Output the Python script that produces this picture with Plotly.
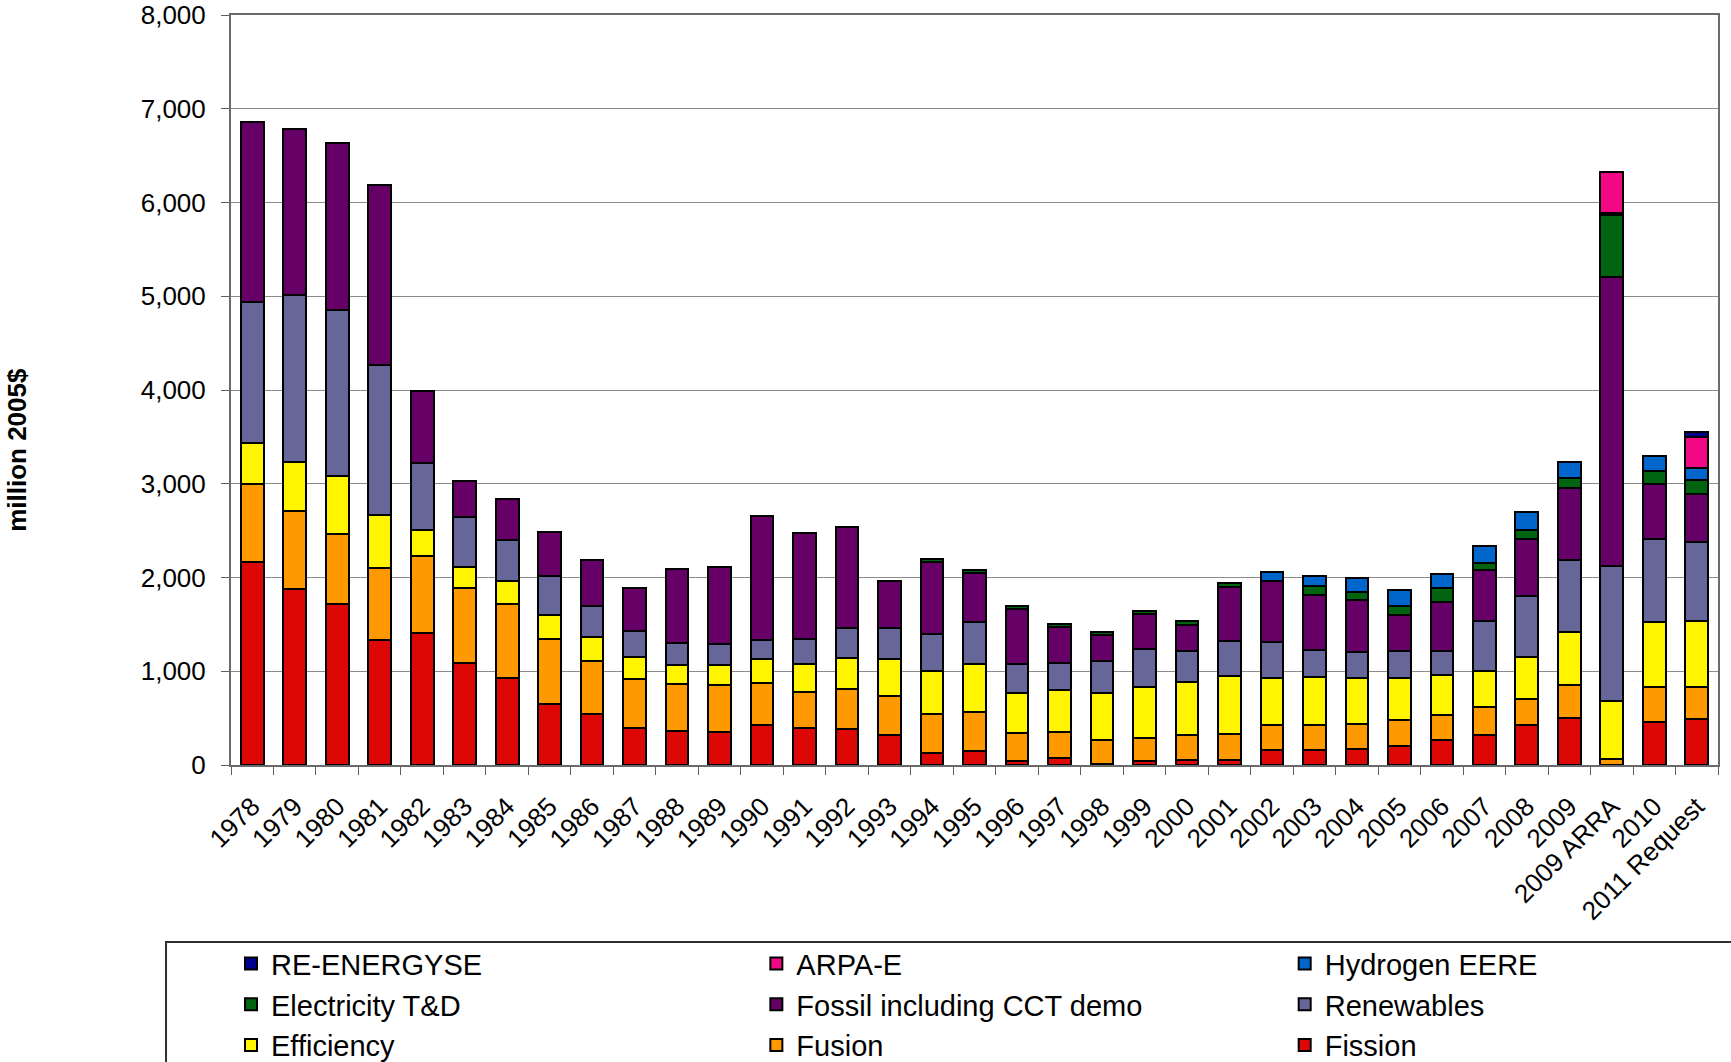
import plotly.graph_objects as go

years = ['1978', '1979', '1980', '1981', '1982', '1983', '1984', '1985', '1986', '1987',
         '1988', '1989', '1990', '1991', '1992', '1993', '1994', '1995', '1996', '1997',
         '1998', '1999', '2000', '2001', '2002', '2003', '2004', '2005', '2006', '2007',
         '2008', '2009', '2009 ARRA', '2010', '2011 Request']

fission = [2170, 1880, 1715, 1335, 1405, 1090, 930, 650, 540, 390,
           360, 350, 430, 395, 380, 315, 130, 145, 42, 71,
           10, 39, 50, 55, 158, 158, 170, 205, 264, 324,
           426, 499, 0, 456, 490]
fusion = [830, 830, 745, 770, 820, 800, 790, 695, 565, 530,
          500, 500, 440, 380, 430, 425, 410, 425, 298, 279,
          255, 244, 269, 278, 268, 268, 269, 277, 269, 294,
          273, 354, 64, 376, 337]
efficiency = [435, 520, 620, 560, 280, 227, 248, 259, 259, 228,
              212, 212, 262, 305, 336, 389, 463, 506, 428, 453,
              500, 545, 569, 618, 499, 512, 491, 448, 427, 384,
              452, 571, 623, 695, 704]
renewables = [1505, 1785, 1777, 1597, 719, 529, 434, 413, 334, 285,
              227, 234, 198, 265, 312, 329, 390, 450, 308, 280,
              343, 411, 330, 371, 384, 294, 273, 281, 251, 537,
              653, 759, 1441, 887, 844]
fossil = [1920, 1767, 1782, 1925, 761, 381, 439, 470, 491, 450,
          788, 818, 1328, 1126, 1083, 510, 775, 527, 591, 390,
          280, 372, 279, 576, 653, 585, 558, 388, 529, 538,
          610, 776, 3075, 584, 516]
electricity_td = [0, 0, 0, 0, 0, 0, 0, 0, 0, 0,
                  0, 0, 0, 0, 0, 0, 28, 22, 32, 31,
                  31, 35, 36, 42, 0, 89, 81, 94, 145, 81,
                  89, 103, 661, 136, 145]
hydrogen_eere = [0, 0, 0, 0, 0, 0, 0, 0, 0, 0,
                 0, 0, 0, 0, 0, 0, 0, 0, 0, 0,
                 0, 0, 0, 0, 93, 115, 158, 175, 149, 183,
                 192, 166, 29, 158, 128]
arpa_e = [0, 0, 0, 0, 0, 0, 0, 0, 0, 0,
          0, 0, 0, 0, 0, 0, 0, 0, 0, 0,
          0, 0, 0, 0, 0, 0, 0, 0, 0, 0,
          0, 0, 435, 0, 333]
re_energyse = [0, 0, 0, 0, 0, 0, 0, 0, 0, 0,
               0, 0, 0, 0, 0, 0, 0, 0, 0, 0,
               0, 0, 0, 0, 0, 0, 0, 0, 0, 0,
               0, 0, 0, 0, 55]

# name, values, colour, legend column
series = [
    ('Fission', fission, '#DD0806', 'legend3'),
    ('Fusion', fusion, '#FF9900', 'legend2'),
    ('Efficiency', efficiency, '#FFF500', 'legend'),
    ('Renewables', renewables, '#666699', 'legend3'),
    ('Fossil including CCT demo', fossil, '#660066', 'legend2'),
    ('Electricity T&D', electricity_td, '#006411', 'legend'),
    ('Hydrogen EERE', hydrogen_eere, '#0066CC', 'legend3'),
    ('ARPA-E', arpa_e, '#F20884', 'legend2'),
    ('RE-ENERGYSE', re_energyse, '#000090', 'legend'),
]

fig = go.Figure()
for name, values, colour, leg in series:
    fig.add_trace(go.Bar(
        x=years, y=values, name=name, legend=leg,
        marker={'color': colour, 'line': {'color': 'black', 'width': 2}},
    ))

font = 'Liberation Sans, Arial, sans-serif'
legend_style = {
    'orientation': 'v', 'traceorder': 'reversed',
    'xanchor': 'left', 'y': -0.231, 'yanchor': 'top',
    'font': {'size': 29, 'family': font},
    'bgcolor': 'rgba(0,0,0,0)',
}

fig.update_layout(
    barmode='stack',
    bargap=0.466,
    width=1731, height=1062,
    margin={'l': 231, 'r': 13, 't': 15, 'b': 297, 'autoexpand': False},
    plot_bgcolor='white',
    paper_bgcolor='white',
    font={'family': font, 'size': 26, 'color': 'black'},
    showlegend=True,
    legend={**legend_style, 'x': 0.0},
    legend2={**legend_style, 'x': 0.3533},
    legend3={**legend_style, 'x': 0.7086},
    shapes=[{
        'type': 'rect', 'xref': 'paper', 'yref': 'paper',
        'x0': -0.0437, 'x1': 1.2, 'y0': -0.236, 'y1': -0.6,
        'line': {'color': '#303030', 'width': 2},
    }],
    annotations=[{
        'text': '<b>million 2005$</b>', 'textangle': -90,
        'xref': 'paper', 'yref': 'paper', 'x': -0.144, 'y': 0.42,
        'xanchor': 'center', 'yanchor': 'middle', 'showarrow': False,
        'font': {'size': 26, 'family': font},
    }],
)
fig.update_xaxes(
    type='category', tickangle=-45, automargin=False,
    ticklabelstandoff=14,
    showline=True, linecolor='#6A6A6A', linewidth=2, mirror=True,
    ticks='outside', tickson='boundaries', ticklen=8, tickcolor='#606060',
    tickfont={'size': 26},
)
fig.update_yaxes(
    range=[0, 8000], dtick=1000, tickformat=',', automargin=False,
    ticklabeloverflow='allow', ticklabelstandoff=10,
    showline=True, linecolor='#6A6A6A', linewidth=2, mirror=True,
    ticks='outside', ticklen=8, tickcolor='#606060',
    showgrid=True, gridcolor='#8C8C8C', gridwidth=1,
    tickfont={'size': 26},
)

# drop the page's default body margin so the figure fills the window
fig.write_html('out.html', config={'displayModeBar': False},
               post_script="document.body.style.margin = '0px';")
